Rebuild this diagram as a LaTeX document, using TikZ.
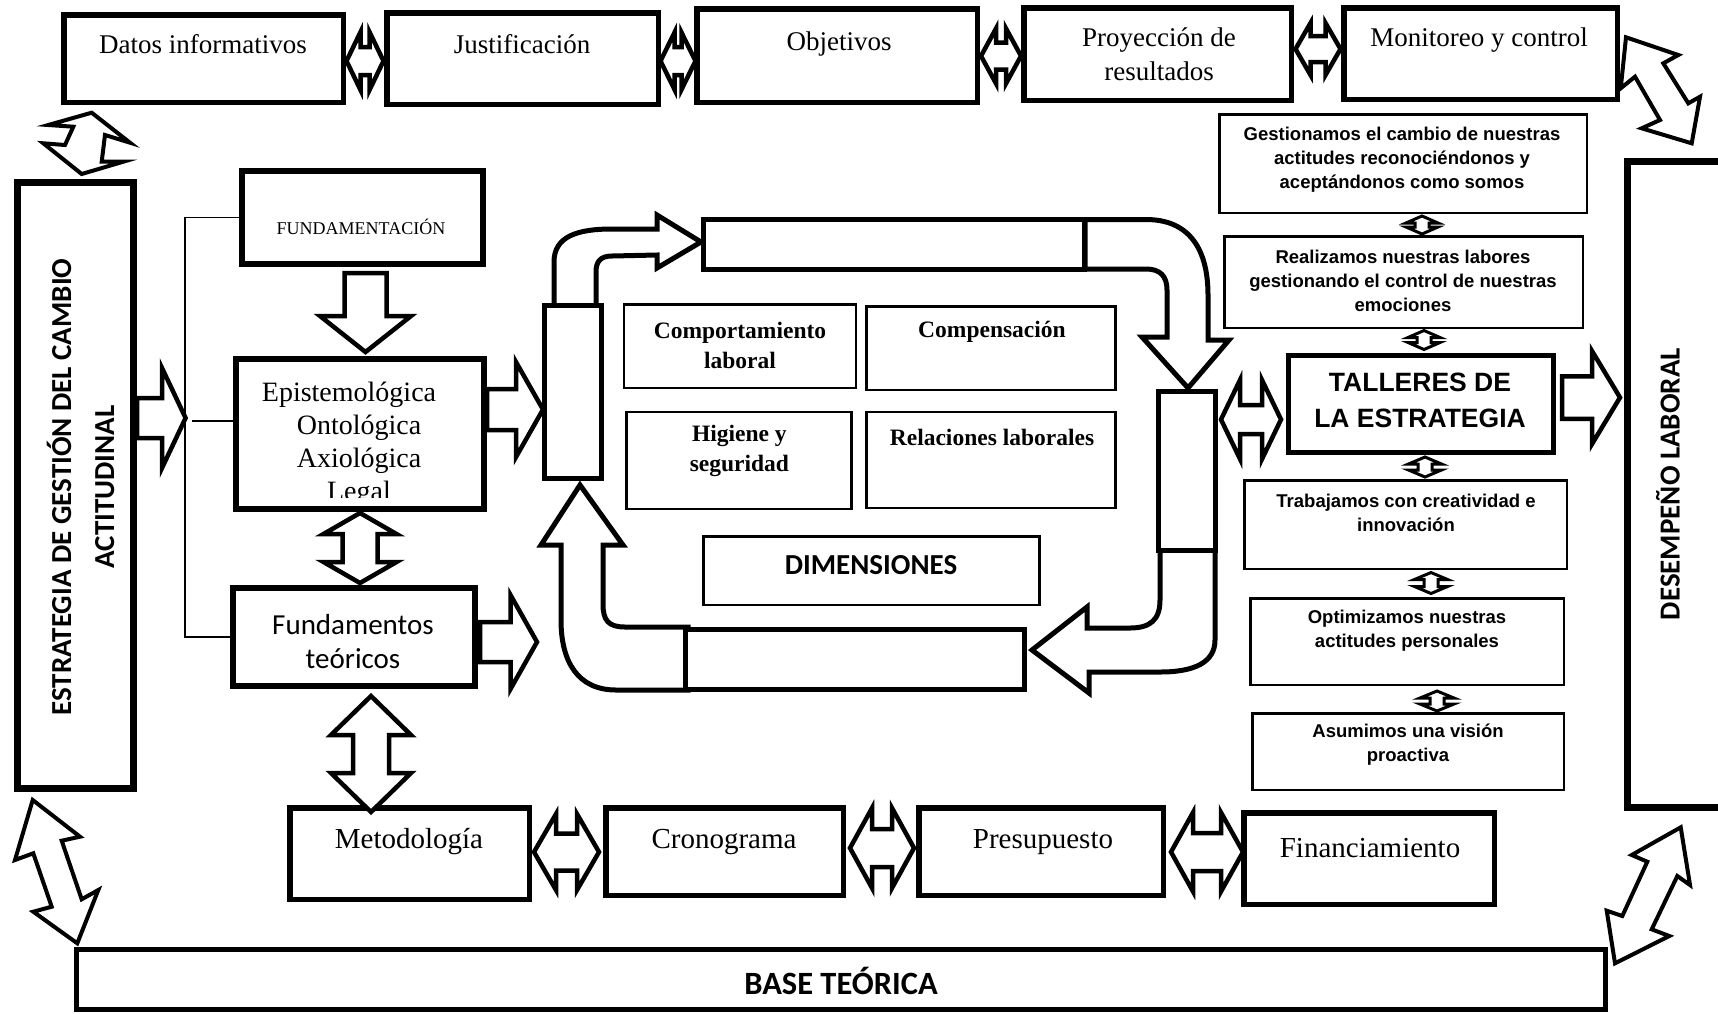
\documentclass[tikz,border=0pt]{standalone}
\usepackage{fontspec}
\setmainfont{Liberation Serif}
\newfontfamily\fArial{Liberation Sans}
\newfontfamily\fCal{Carlito}
\usetikzlibrary{calc}
\newcommand{\topf}{\fontsize{27}{34}\selectfont}
\newcommand{\estf}{\fCal\bfseries\fontsize{29}{43}\selectfont}
\newcommand{\dimf}{\bfseries\fontsize{23.5}{30}\selectfont}
\newcommand{\rcf}{\fArial\bfseries\fontsize{18.5}{24}\selectfont}
\newcommand{\botf}{\fontsize{29}{34}\selectfont}
\newcommand{\basef}{\fCal\bfseries\fontsize{32.5}{38}\selectfont}
\newcommand{\DblArrow}[8]{%
  \begin{scope}[shift={(#1,#2)},rotate=#3]
    \draw[line width=#8pt,fill=white]
      ({-(#4)/2},0) -- ({-(#4)/2+(#7)},{(#5)/2}) -- ({-(#4)/2+(#7)},{(#6)/2})
      -- ({(#4)/2-(#7)},{(#6)/2}) -- ({(#4)/2-(#7)},{(#5)/2}) -- ({(#4)/2},0)
      -- ({(#4)/2-(#7)},{-(#5)/2}) -- ({(#4)/2-(#7)},{-(#6)/2})
      -- ({-(#4)/2+(#7)},{-(#6)/2}) -- ({-(#4)/2+(#7)},{-(#5)/2}) -- cycle;
  \end{scope}}
\newcommand{\SglArrow}[8]{%
  \begin{scope}[shift={(#1,#2)},rotate=#3]
    \draw[line width=#8pt,fill=white]
      ({-(#4)/2},{(#6)/2}) -- ({(#4)/2-(#7)},{(#6)/2}) -- ({(#4)/2-(#7)},{(#5)/2})
      -- ({(#4)/2},0) -- ({(#4)/2-(#7)},{-(#5)/2}) -- ({(#4)/2-(#7)},{-(#6)/2})
      -- ({-(#4)/2},{-(#6)/2}) -- cycle;
  \end{scope}}
\begin{document}
\begin{tikzpicture}[x=1pt,y=-1pt,
  bx/.style={draw,line width=#1,inner sep=0pt,fill=white},
  bx/.default=5.5pt,
  tx/.style={inner sep=0pt,align=center},
  darr/.style={draw,line width=4pt,fill=white},
  cyc/.style={draw,line width=5pt,fill=white},
  brline/.style={draw,line width=1.5pt}]
\clip (0,0) rectangle (1718,1013);
\fill[white] (0,0) rectangle (1718,1013);

% ---------- top row ----------
\node[bx,minimum width=279.5pt,minimum height=87.5pt] (datos) at (203.5,58.5) {};
\node[tx,font=\topf] (datos-t) at (203,44) {Datos informativos};
\node[bx,minimum width=271.5pt,minimum height=91.5pt] (just) at (522.5,58.5) {};
\node[tx,font=\topf] (just-t) at (522,44) {Justificación};
\node[bx,minimum width=280.5pt,minimum height=93.5pt] (obj) at (837,55.5) {};
\node[tx,font=\topf] (obj-t) at (839,44) {Objetivos};
\node[bx,minimum width=267.5pt,minimum height=92.5pt] (proy) at (1157.5,54) {};
\node[tx,font=\topf] (proy-t) at (1159,54) {Proyección de\\resultados};
\node[bx,minimum width=273.5pt,minimum height=91.5pt] (moni) at (1480.5,53.5) {};
\node[tx,font=\topf] (moni-t) at (1479,40) {Monitoreo y control};
\DblArrow{365}{61}{0}{37}{58}{28}{14}{4.5}
\DblArrow{678}{61}{0}{35}{57}{28}{14}{4.5}
\DblArrow{1001}{56}{0}{40}{55}{27}{15}{4.5}
\DblArrow{1318}{49}{0}{45}{52}{26}{15}{4.5}

% ---------- side boxes ----------
\node[bx=7pt,minimum width=116pt,minimum height=606pt] (estr) at (75.5,485.5) {};
\node[tx,rotate=90,font=\estf] (estr-t) at (80.5,487) {ESTRATEGIA DE GESTIÓN DEL CAMBIO\\ACTITUDINAL};
\node[bx=7pt,minimum width=110pt,minimum height=646pt] (desem) at (1682.5,484.5) {};
\node[tx,rotate=90,font=\estf] (desem-t) at (1668,484) {DESEMPEÑO LABORAL};
\node[bx=5pt,minimum width=1529pt,minimum height=60pt] (base) at (841,979.5) {};
\node[tx,font=\basef] (base-t) at (841,981) {BASE TEÓRICA};

% ---------- corner arrows ----------
\draw[darr] (48.3,125) -- (91.7,112.7) -- (130,142.7) -- (105,135) -- (101.7,161.7) -- (123.3,161.7) -- (81.7,174) -- (43.3,143.3) -- (65,145) -- (73.3,126.7) -- cycle;
\draw[darr] (1626,37.3) -- (1678.3,55) -- (1663.3,63.3) -- (1688.3,103.3) -- (1700,96.7) -- (1691.7,143.3) -- (1641.7,128.3) -- (1660,120) -- (1635,76.7) -- (1620.7,88.3) -- cycle;
\draw[darr] (32.7,800) -- (80,836.7) -- (61.7,840.7) -- (81.7,899.3) -- (98.3,890) -- (77.3,943.3) -- (33.3,911.7) -- (51.7,906.7) -- (33.3,853.3) -- (15,860) -- cycle;
\draw[darr] (1680.7,827.3) -- (1690,885) -- (1677.3,876) -- (1651.7,929.3) -- (1669.3,936) -- (1615,963.3) -- (1606.7,910.7) -- (1622.3,916) -- (1647.3,861.7) -- (1631.7,855) -- cycle;

% ---------- left column ----------
\node[bx=6pt,minimum width=241pt,minimum height=93pt] (fund) at (362,217.5) {};
\node[tx,font=\fontsize{18}{22}\selectfont] (fund-t) at (361,227) {FUNDAMENTACIÓN};
\SglArrow{365.5}{312.5}{-90}{79}{91}{42}{36}{4.5}
\node[bx=6pt,minimum width=248pt,minimum height=150pt] (epis) at (360,434) {};
\begin{scope}
\clip (236,359) rectangle (484,497);
\node[tx,font=\fontsize{28}{33}\selectfont] (epis-t) at (349,444) {Epistemológica\\\hspace*{20pt}Ontológica\\\hspace*{20pt}Axiológica\\\hspace*{20pt}Legal};
\end{scope}
\DblArrow{360}{548}{90}{70}{73}{35}{21}{4.5}
\node[bx=6pt,minimum width=242pt,minimum height=98pt] (fundt) at (354,637) {};
\node[tx,font=\fCal\fontsize{29}{34}\selectfont] (fundt-t) at (353,642) {Fundamentos\\teóricos};
\SglArrow{161.3}{418}{0}{48.6}{100}{40}{23.6}{4.5}
\SglArrow{515}{409.5}{0}{56}{95}{41}{27}{4.5}
\SglArrow{508.5}{642}{0}{57}{94}{40}{26.5}{4.5}

\coordinate (brx) at (185,0);
\coordinate (brm) at (192,421);
\draw[brline] (fund.west) -- (fund.west -| brx) -- (fundt.west -| brx) -- (fundt.west);
\draw[brline] (brm) -- (brm -| epis.west);

% ---------- cycle ----------
\draw[cyc] (554,306) -- (554,262) .. controls (554,236) and (578,229) .. (612,229) -- (657,229) -- (657,215) -- (701,242) -- (657,268) -- (657,255) -- (612,256) .. controls (600,256) and (596,262) .. (596,272) -- (596,306) -- cycle;
\draw[cyc] (1085,219.5) -- (1146,219.5) .. controls (1190,219.5) and (1208,250) .. (1208,295) -- (1208,340) -- (1229,340) -- (1188,388) -- (1142,337) -- (1167,337) -- (1167,290) .. controls (1167,276) and (1160,269) .. (1146,269) -- (1085,269) -- cycle;
\draw[cyc] (1215,546) -- (1215,640) .. controls (1215,662) and (1195,672) .. (1160,672) -- (1089,672) -- (1089,693) -- (1032,650) -- (1087,607) -- (1087,628) -- (1130,628) .. controls (1150,628) and (1160,620) .. (1160,600) -- (1160,546) -- cycle;
\draw[cyc] (688,690) -- (616,690) .. controls (578,690) and (561,662) .. (561,620) -- (561,545) -- (541,545) -- (580,485) -- (623,545) -- (603,545) -- (603,604) .. controls (603,620) and (608,627) .. (625,627) -- (688,627) -- cycle;
\node[bx=5pt,minimum width=57pt,minimum height=173pt] (lbar) at (573,392) {};
\node[bx=5pt,minimum width=381pt,minimum height=50pt] (tbar) at (894,244.5) {};
\node[bx=5pt,minimum width=57pt,minimum height=159pt] (rbar) at (1186.7,471) {};
\node[bx=5pt,minimum width=339pt,minimum height=60pt] (bbar) at (855,659.5) {};

% ---------- dimensions ----------
\node[bx=2.5pt,minimum width=232pt,minimum height=83.5pt] (comp) at (740,346.3) {};
\node[tx,font=\dimf] (comp-t) at (740,345) {Comportamiento\\laboral};
\node[bx=2.5pt,minimum width=249pt,minimum height=83.5pt] (compen) at (991,348) {};
\node[tx,font=\dimf] (compen-t) at (992,332) {Compensación};
\node[bx=2.5pt,minimum width=225pt,minimum height=97pt] (hig) at (739.2,460.3) {};
\node[tx,font=\dimf] (hig-t) at (739.4,451) {Higiene y\\seguridad};
\node[bx=2.5pt,minimum width=249pt,minimum height=96pt] (rel) at (991,460) {};
\node[tx,font=\dimf] (rel-t) at (992,437) {Relaciones laborales};
\node[bx=2.5pt,minimum width=336pt,minimum height=68.5pt] (dim) at (871.6,570.5) {};
\node[tx,font=\fCal\bfseries\fontsize{29}{34}\selectfont] (dim-t) at (871,565) {DIMENSIONES};

% ---------- right column ----------
\node[bx=2.5pt,minimum width=367.5pt,minimum height=98.5pt] (gest) at (1403,163.5) {};
\node[tx,font=\rcf] (gest-t) at (1402,160) {Gestionamos el cambio de nuestras\\actitudes reconociéndonos y\\aceptándonos como somos};
\DblArrow{1422}{225}{90}{18}{32}{14}{7}{3}
\node[bx=2.5pt,minimum width=358.5pt,minimum height=91.5pt] (real) at (1403.5,282) {};
\node[tx,font=\rcf] (real-t) at (1403,280.5) {Realizamos nuestras labores\\gestionando el control de nuestras\\emociones};
\DblArrow{1424}{340}{90}{19}{32}{14}{7}{3}
\node[bx=5pt,minimum width=265pt,minimum height=97pt] (tall) at (1421,404) {};
\node[tx,font=\fArial\bfseries\fontsize{26.5}{36}\selectfont] (tall-t) at (1420,400) {TALLERES DE\\LA ESTRATEGIA};
\DblArrow{1425}{467}{90}{20}{33}{14}{7}{3}
\node[bx=2.5pt,minimum width=322.5pt,minimum height=88.5pt] (trab) at (1405.5,524.5) {};
\node[tx,font=\rcf] (trab-t) at (1406,513) {Trabajamos con creatividad e\\innovación};
\DblArrow{1431}{583}{90}{21}{33}{14}{7}{3}
\node[bx=2.5pt,minimum width=313.5pt,minimum height=86.5pt] (opt) at (1407,641.5) {};
\node[tx,font=\rcf] (opt-t) at (1407,631) {Optimizamos nuestras\\actitudes personales};
\DblArrow{1437}{701}{90}{20}{34}{14}{7}{3}
\node[bx=2.5pt,minimum width=311.5pt,minimum height=76.5pt] (asu) at (1408,751.5) {};
\node[tx,font=\rcf] (asu-t) at (1408,744.5) {Asumimos una visión\\proactiva};
\DblArrow{1251}{419.5}{0}{60}{79}{29}{19}{4.5}
\SglArrow{1591}{397.5}{0}{58}{93}{42.5}{28}{4.5}

% ---------- bottom row ----------
\node[bx,minimum width=239.5pt,minimum height=91.5pt] (metod) at (409.5,853.5) {};
\node[tx,font=\botf] (metod-t) at (409,842) {Metodología};
\node[bx,minimum width=237.5pt,minimum height=87.5pt] (crono) at (724.5,851.5) {};
\node[tx,font=\botf] (crono-t) at (724,842) {Cronograma};
\node[bx,minimum width=244.5pt,minimum height=87.5pt] (presu) at (1041,851.5) {};
\node[tx,font=\botf] (presu-t) at (1043,842) {Presupuesto};
\node[bx,minimum width=250.5pt,minimum height=91.5pt] (finan) at (1369,858.5) {};
\node[tx,font=\botf] (finan-t) at (1370,848) {Financiamiento};
\DblArrow{566.5}{852}{0}{65}{76}{37}{22}{4.5}
\DblArrow{882}{848}{0}{64}{80}{38}{22}{4.5}
\DblArrow{1207}{852}{0}{72}{79}{38}{22}{4.5}
\DblArrow{371}{754}{90}{116}{80}{36}{39}{4.5}
\end{tikzpicture}
\end{document}
